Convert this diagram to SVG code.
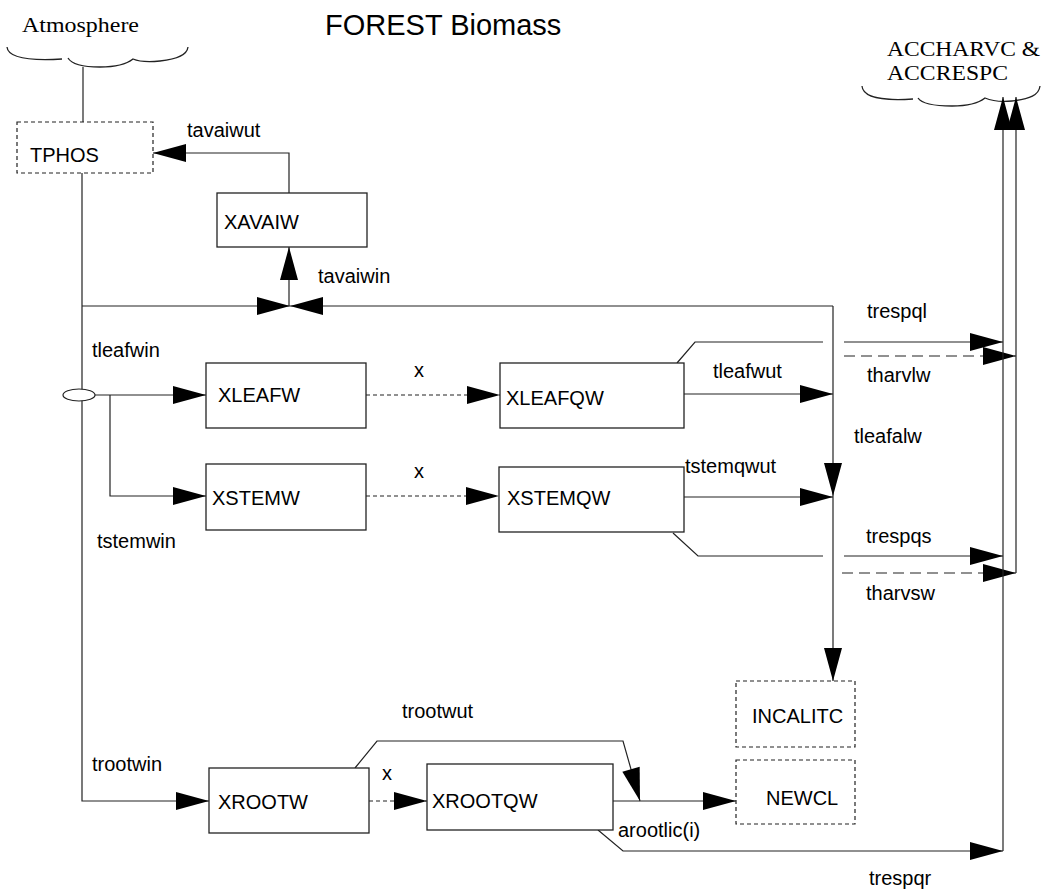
<svg xmlns="http://www.w3.org/2000/svg" width="1051" height="892" viewBox="0 0 1051 892">
<style>
.bg{fill:#fff}
.box{fill:#fff;stroke:#222;stroke-width:1.3}
.dbox{fill:#fff;stroke:#222;stroke-width:1.2;stroke-dasharray:4 3}
.ln{fill:none;stroke:#222;stroke-width:1.2}
.sd{stroke-dasharray:4 3}
.ld{stroke-dasharray:11 6}
.t{font-family:"Liberation Sans",Arial,sans-serif;font-size:20px;fill:#000}
.s{font-family:"Liberation Serif","Times New Roman",serif;font-size:21px;fill:#000}
.cl{fill:none;stroke:#222;stroke-width:1.3}
</style>
<defs>
<marker id="ah" markerUnits="userSpaceOnUse" markerWidth="34" markerHeight="20" refX="33" refY="9" orient="auto" overflow="visible">
<path d="M0,0 L33,9 L0,18 Z" fill="#000" stroke="none"/>
</marker>
</defs>
<rect class="bg" x="0" y="0" width="1051" height="892"/>
<text class="t" x="325" y="35" style="font-size:29px">FOREST Biomass</text>

<g id="atmosphere">
<text class="s" x="22" y="32" textLength="117" lengthAdjust="spacingAndGlyphs">Atmosphere</text>
<path class="cl" d="M7,47 C8,58 28,61 62,59 M68,58 C72,65 86,67 100,67 C118,67 128,63 133,59 C140,62 150,62 160,61 C178,59 187,55 188,47"/>
</g>

<g id="accharvc">
<text class="s" x="887" y="56" textLength="153" lengthAdjust="spacingAndGlyphs">ACCHARVC &amp;</text>
<text class="s" x="887" y="80" textLength="121" lengthAdjust="spacingAndGlyphs">ACCRESPC</text>
<path class="cl" d="M862,86 C863,98 885,101 913,99 M918,98 C922,104 938,106 952,106 C970,106 980,102 985,98 C992,101 1002,102 1012,101 C1030,99 1039,95 1040,86"/>
</g>

<g id="connectors">
<path class="ln" d="M83,67 V122"/>
<path class="ln" d="M82,173 V801 H209" marker-end="url(#ah)"/>
<path class="ln" d="M289,193 V153 H153" marker-end="url(#ah)"/>
<path class="ln" d="M82,306 H290" marker-end="url(#ah)"/>
<path class="ln" d="M833,306 H290" marker-end="url(#ah)"/>
<path class="ln" d="M289,306 V247" marker-end="url(#ah)"/>
<path class="ln" d="M95,395 H206" marker-end="url(#ah)"/>
<path class="ln" d="M110,395 V496 H206" marker-end="url(#ah)"/>
<path class="ln sd" d="M366,395 H500" marker-end="url(#ah)"/>
<path class="ln sd" d="M366,496 H499" marker-end="url(#ah)"/>
<path class="ln sd" d="M369,801 H427" marker-end="url(#ah)"/>
<path class="ln" d="M684,394 H833" marker-end="url(#ah)"/>
<path class="ln" d="M684,497 H833" marker-end="url(#ah)"/>
<path class="ln" d="M833,306 V496" marker-end="url(#ah)"/>
<path class="ln" d="M833,496 V681" marker-end="url(#ah)"/>
<path class="ln" d="M677,363 L695,342 H823 M844,342 H1003" marker-end="url(#ah)"/>
<path class="ln ld" d="M844,356 H1016" marker-end="url(#ah)"/>
<path class="ln" d="M673,533 L698,556 H823 M844,556 H1003" marker-end="url(#ah)"/>
<path class="ln ld" d="M842,573 H1016" marker-end="url(#ah)"/>
<path class="ln" d="M1003,851 V97" marker-end="url(#ah)"/>
<path class="ln" d="M1016,573 V97" marker-end="url(#ah)"/>
<path class="ln" d="M355,768 L377,741 H623 L640,801" marker-end="url(#ah)"/>
<path class="ln" d="M613,801 H736" marker-end="url(#ah)"/>
<path class="ln" d="M598,830 L623,851 H1003" marker-end="url(#ah)"/>
<ellipse cx="79" cy="395" rx="16" ry="6" fill="#fff" stroke="#222" stroke-width="1.2"/>
</g>

<g id="labels">
<text class="t" x="187" y="137">tavaiwut</text>
<text class="t" x="318" y="283">tavaiwin</text>
<text class="t" x="92" y="357">tleafwin</text>
<text class="t" x="97" y="548">tstemwin</text>
<text class="t" x="414" y="377">x</text>
<text class="t" x="414" y="478">x</text>
<text class="t" x="382" y="780">x</text>
<text class="t" x="867" y="318">trespql</text>
<text class="t" x="867" y="382">tharvlw</text>
<text class="t" x="713" y="378">tleafwut</text>
<text class="t" x="854" y="443">tleafalw</text>
<text class="t" x="685" y="473">tstemqwut</text>
<text class="t" x="866" y="543">trespqs</text>
<text class="t" x="866" y="600">tharvsw</text>
<text class="t" x="92" y="771">trootwin</text>
<text class="t" x="402" y="718">trootwut</text>
<text class="t" x="618" y="837">arootlic(i)</text>
<text class="t" x="869" y="885">trespqr</text>
</g>

<g id="TPHOS"><rect class="dbox" x="17" y="122" width="136" height="51"/><text class="t" x="30" y="162">TPHOS</text></g>
<g id="XAVAIW"><rect class="box" x="217" y="193" width="150" height="54"/><text class="t" x="224" y="229">XAVAIW</text></g>
<g id="XLEAFW"><rect class="box" x="206" y="363" width="160" height="65"/><text class="t" x="218" y="402">XLEAFW</text></g>
<g id="XSTEMW"><rect class="box" x="206" y="464" width="160" height="66"/><text class="t" x="212" y="505">XSTEMW</text></g>
<g id="XLEAFQW"><rect class="box" x="500" y="363" width="184" height="65"/><text class="t" x="506" y="405">XLEAFQW</text></g>
<g id="XSTEMQW"><rect class="box" x="499" y="467" width="185" height="65"/><text class="t" x="507" y="505">XSTEMQW</text></g>
<g id="INCALITC"><rect class="dbox" x="736" y="681" width="119" height="66"/><text class="t" x="752" y="723">INCALITC</text></g>
<g id="NEWCL"><rect class="dbox" x="736" y="760" width="119" height="64"/><text class="t" x="766" y="805">NEWCL</text></g>
<g id="XROOTW"><rect class="box" x="209" y="768" width="160" height="65"/><text class="t" x="218" y="809">XROOTW</text></g>
<g id="XROOTQW"><rect class="box" x="427" y="764" width="186" height="66"/><text class="t" x="432" y="808">XROOTQW</text></g>
</svg>
